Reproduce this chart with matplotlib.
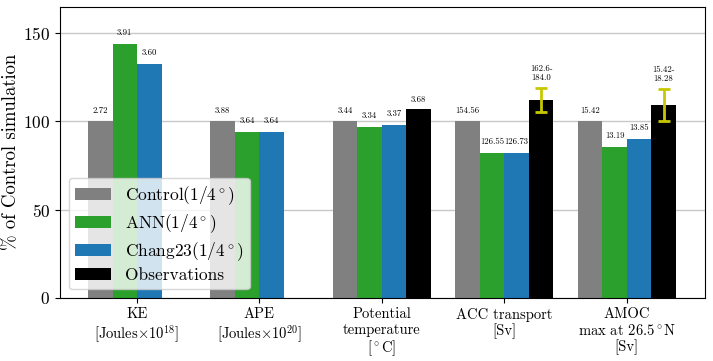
import numpy as np
import matplotlib.pyplot as plt

plt.rcParams['font.family'] = 'cmr10'
plt.rcParams['mathtext.fontset'] = 'cm'
plt.rcParams['axes.formatter.use_mathtext'] = True

categories = ['KE\n[Joules$\\times10^{18}$]', 'APE\n[Joules$\\times10^{20}$]',
              'Potential\ntemperature\n[$^\\circ$C]', 'ACC transport\n[Sv]',
              'AMOC\nmax at 26.5$^\\circ$N\n[Sv]']
control = [2.72, 3.88, 3.44, 154.56, 15.42]
ann = [3.91, 3.64, 3.34, 126.55, 13.19]
chang = [3.60, 3.64, 3.37, 126.73, 13.85]
obs_low = [np.nan, np.nan, 3.68, 162.6, 15.42]
obs_high = [np.nan, np.nan, 3.68, 184.0, 18.28]
obs_labels = ['', '', '3.68', '162.6-\n184.0', '15.42-\n18.28']

control = np.array(control)
x = np.arange(len(categories))
w = 0.2

fig, ax = plt.subplots(figsize=(7.13, 3.61), dpi=100)
ax.grid(axis='y', color='#c8c8c8', linewidth=1)
ax.set_axisbelow(True)

series = [(control, 'gray', r'Control(1/4$^\circ$)'),
          (np.array(ann), '#2ca02c', r'ANN(1/4$^\circ$)'),
          (np.array(chang), '#1f77b4', r'Chang23(1/4$^\circ$)')]
for i, (vals, col, lab) in enumerate(series):
    pct = vals / control * 100
    pos = x + (i - 1.5) * w
    ax.bar(pos, pct, w, color=col, label=lab)
    for p, v, raw in zip(pos, pct, vals):
        ax.annotate('%.2f' % raw, (p, v), xytext=(0, 5), textcoords='offset points',
                    ha='center', va='bottom', fontsize=6.3)

lo = np.array(obs_low) / control * 100
hi = np.array(obs_high) / control * 100
mid = (lo + hi) / 2
pos = x + 1.5 * w
ax.bar(pos, mid, w, color='black', label='Observations')
for p, l, h, m, txt in zip(pos, lo, hi, mid, obs_labels):
    if np.isnan(m):
        continue
    if h > l:
        ax.errorbar(p, m, yerr=[[m - l], [h - m]], color='#c8c800', capsize=4,
                    linewidth=2, capthick=2)
        top = h
    else:
        top = m
    ax.annotate(txt, (p, top), xytext=(0, 4), textcoords='offset points',
                ha='center', va='bottom', fontsize=6.3, linespacing=1.2)

ax.set_xticks(x)
ax.set_xticklabels(categories, fontsize=10.5, linespacing=1.15)
ax.set_xlim(-0.63, 4.64)
ax.set_ylim(0, 165)
ax.set_yticks([0, 50, 100, 150])
ax.tick_params(axis='y', labelsize=12.5)
ax.set_ylabel('% of Control simulation', fontsize=13.5, labelpad=2)
ax.legend(loc='lower left', fontsize=12.5, labelspacing=0.3, borderpad=0.35,
          handlelength=2.1)

plt.subplots_adjust(left=0.084, right=0.989, top=0.981, bottom=0.175)
plt.savefig('out.png')
